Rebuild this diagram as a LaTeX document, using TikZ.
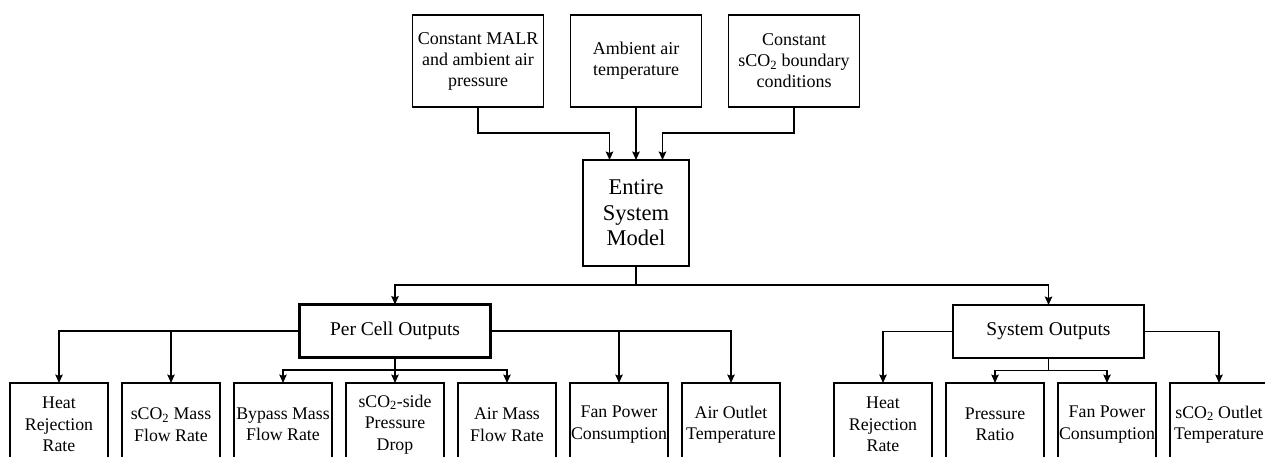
\documentclass[tikz,border=0pt]{standalone}
\usepackage{fontspec}
\setmainfont{Liberation Serif}
\usetikzlibrary{arrows.meta, positioning}

\begin{document}
\begin{tikzpicture}[
  x=1pt, y=-1pt,
  inbox/.style={rectangle, draw, line width=1.5pt, outer sep=0pt, inner sep=0pt,
                minimum width=131pt, minimum height=92pt, align=center,
                font=\fontsize{18}{21}\selectfont},
  model/.style={rectangle, draw, line width=2.8pt, outer sep=0pt,
                minimum width=106pt, minimum height=106pt, align=center,
                font=\fontsize{22.5}{25.5}\selectfont},
  group/.style={rectangle, draw, line width=2.2pt, outer sep=0pt,
                minimum width=191pt, minimum height=53pt,
                font=\fontsize{19.5}{23}\selectfont},
  outbox/.style={rectangle, draw, line width=1.5pt, outer sep=0pt, inner sep=0pt,
                 minimum width=98pt, minimum height=83pt, align=center,
                 font=\fontsize{17.8}{21.5}\selectfont},
  arrow/.style={-{Stealth[length=8.5pt, width=7.5pt, inset=1.5pt]}, line width=1.5pt}
]
  \path[use as bounding box, clip] (0,0) rectangle (1265,457);

  % model and its inputs
  \node[model] (model) at (636,213) {Entire\\System\\Model};
  \node[inbox, above=53pt of model] (tamb) {Ambient air\\temperature};
  \node[inbox, left=27pt of tamb] (malr) {Constant MALR\\and ambient air\\pressure};
  \node[inbox, right=27pt of tamb] (bcond) {Constant\\sCO\textsubscript{2} boundary\\conditions};
  \coordinate (inl) at ([xshift=-26.5pt]model.north);
  \coordinate (inr) at ([xshift=26.5pt]model.north);

  % per cell outputs
  \node[outbox] (heat) at (59,424.5) {Heat\\Rejection\\Rate};
  \node[outbox, right=14pt of heat] (mflow) {sCO\textsubscript{2} Mass\\Flow Rate};
  \node[outbox, right=14pt of mflow] (bypass) {Bypass Mass\\Flow Rate};
  \node[outbox, right=14pt of bypass] (dp) {sCO\textsubscript{2}-side\\Pressure\\Drop};
  \node[outbox, right=14pt of dp] (air) {Air Mass\\Flow Rate};
  \node[outbox, right=14pt of air] (fan) {Fan Power\\Consumption};
  \node[outbox, right=14pt of fan] (aout) {Air Outlet\\Temperature};
  \node[group, above=25.5pt of dp] (percell) {Per Cell Outputs};

  % system outputs
  \node[outbox] (sheat) at (883,424.5) {Heat\\Rejection\\Rate};
  \node[outbox, right=14pt of sheat] (pratio) {Pressure\\Ratio};
  \node[outbox, right=14pt of pratio] (sfan) {Fan Power\\Consumption};
  \node[outbox, right=14pt of sfan] (sout) {sCO\textsubscript{2} Outlet\\Temperature};
  \node[group] (system) at (1048.5,331.5) {System Outputs};

  % inputs into the model
  \draw[arrow] (malr.south) -- ++(0,26) -| (inl);
  \draw[arrow] (tamb.south) -- (model.north);
  \draw[arrow] (bcond.south) -- ++(0,26) -| (inr);

  % model into the two groups
  \draw[arrow] (model.south) -- ++(0,19) -| (percell.north);
  \draw[arrow] (model.south) -- ++(0,19) -| (system.north);

  % per cell branches
  \draw[arrow] (percell.west) -| (heat.north);
  \draw[arrow] (percell.west) -| (mflow.north);
  \draw[arrow] (percell.south) -- ++(0,12.5) -| (bypass.north);
  \draw[arrow] (percell.south) -- (dp.north);
  \draw[arrow] (percell.south) -- ++(0,12.5) -| (air.north);
  \draw[arrow] (percell.east) -| (fan.north);
  \draw[arrow] (percell.east) -| (aout.north);

  % system branches
  \draw[arrow] (system.west) -| (sheat.north);
  \draw[arrow] (system.south) -- ++(0,12.5) -| (pratio.north);
  \draw[arrow] (system.south) -- ++(0,12.5) -| (sfan.north);
  \draw[arrow] (system.east) -| (sout.north);
\end{tikzpicture}
\end{document}
